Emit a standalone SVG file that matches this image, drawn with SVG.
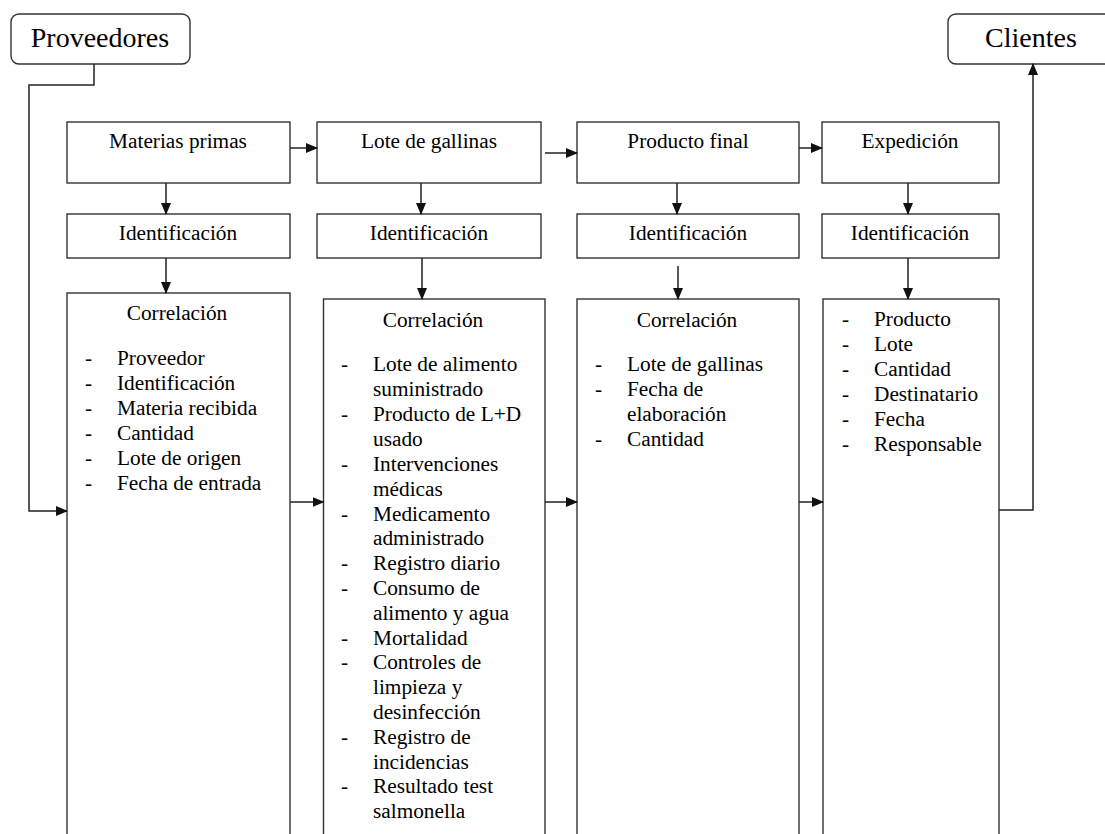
<svg xmlns="http://www.w3.org/2000/svg" width="1105" height="834" viewBox="0 0 1105 834">
<style>
.box{fill:#fff;stroke:#333;stroke-width:1.4}
.t{font-family:'Liberation Serif','Times New Roman',Tinos,'DejaVu Serif',serif;font-size:21.3px;fill:#000}
.c{text-anchor:middle}
.big{font-family:'Liberation Serif','Times New Roman',Tinos,'DejaVu Serif',serif;font-size:28px;fill:#000;text-anchor:middle}
.ln{fill:none;stroke:#222;stroke-width:1.5}
</style>
<defs>
<marker id="ah" markerWidth="12" markerHeight="12" refX="11" refY="6" orient="auto" markerUnits="userSpaceOnUse">
<path d="M0,1 L12,6 L0,11 Z" fill="#111"/>
</marker>
</defs>
<rect width="1105" height="834" fill="#fff"/>

<g id="proveedores">
<rect class="box" x="11" y="14" width="179" height="50" rx="8"/>
<text class="big" x="100" y="47">Proveedores</text>
</g>
<g id="clientes">
<rect class="box" x="948" y="14" width="180" height="50" rx="8"/>
<text class="big" x="1031" y="47">Clientes</text>
</g>

<g id="materias">
<rect class="box" x="67" y="122" width="223" height="61"/>
<text class="t c" x="178" y="148">Materias primas</text>
</g>
<g id="lote">
<rect class="box" x="317" y="122" width="224" height="61"/>
<text class="t c" x="429" y="148">Lote de gallinas</text>
</g>
<g id="producto">
<rect class="box" x="577" y="122" width="222" height="61"/>
<text class="t c" x="688" y="148">Producto final</text>
</g>
<g id="expedicion">
<rect class="box" x="822" y="122" width="177" height="61"/>
<text class="t c" x="910" y="148">Expedición</text>
</g>

<g id="id1">
<rect class="box" x="67" y="214" width="223" height="44"/>
<text class="t c" x="178" y="240">Identificación</text>
</g>
<g id="id2">
<rect class="box" x="317" y="214" width="224" height="44"/>
<text class="t c" x="429" y="240">Identificación</text>
</g>
<g id="id3">
<rect class="box" x="577" y="214" width="222" height="44"/>
<text class="t c" x="688" y="240">Identificación</text>
</g>
<g id="id4">
<rect class="box" x="822" y="214" width="177" height="44"/>
<text class="t c" x="910" y="240">Identificación</text>
</g>

<g id="corr1">
<rect class="box" x="67" y="293" width="223" height="600"/>
<text class="t c" x="177" y="320">Correlación</text>
<g class="t">
<text x="85" y="365">-</text><text x="117" y="365">Proveedor</text>
<text x="85" y="390">-</text><text x="117" y="390">Identificación</text>
<text x="85" y="415">-</text><text x="117" y="415">Materia recibida</text>
<text x="85" y="440">-</text><text x="117" y="440">Cantidad</text>
<text x="85" y="465">-</text><text x="117" y="465">Lote de origen</text>
<text x="85" y="490">-</text><text x="117" y="490">Fecha de entrada</text>
</g>
</g>

<g id="corr2">
<rect class="box" x="323.5" y="299" width="221.5" height="600"/>
<text class="t c" x="433" y="327">Correlación</text>
<g class="t">
<text x="341" y="371">-</text><text x="373" y="371">Lote de alimento</text>
<text x="373" y="396">suministrado</text>
<text x="341" y="421">-</text><text x="373" y="421">Producto de L+D</text>
<text x="373" y="446">usado</text>
<text x="341" y="471">-</text><text x="373" y="471">Intervenciones</text>
<text x="373" y="495.5">médicas</text>
<text x="341" y="520.5">-</text><text x="373" y="520.5">Medicamento</text>
<text x="373" y="545">administrado</text>
<text x="341" y="570">-</text><text x="373" y="570">Registro diario</text>
<text x="341" y="595">-</text><text x="373" y="595">Consumo de</text>
<text x="373" y="619.5">alimento y agua</text>
<text x="341" y="644.5">-</text><text x="373" y="644.5">Mortalidad</text>
<text x="341" y="669">-</text><text x="373" y="669">Controles de</text>
<text x="373" y="694">limpieza y</text>
<text x="373" y="719">desinfección</text>
<text x="341" y="743.5">-</text><text x="373" y="743.5">Registro de</text>
<text x="373" y="768.5">incidencias</text>
<text x="341" y="793">-</text><text x="373" y="793">Resultado test</text>
<text x="373" y="818">salmonella</text>
</g>
</g>

<g id="corr3">
<rect class="box" x="577" y="299" width="222" height="600"/>
<text class="t c" x="687" y="327">Correlación</text>
<g class="t">
<text x="595" y="371">-</text><text x="627" y="371">Lote de gallinas</text>
<text x="595" y="396">-</text><text x="627" y="396">Fecha de</text>
<text x="627" y="421">elaboración</text>
<text x="595" y="446">-</text><text x="627" y="446">Cantidad</text>
</g>
</g>

<g id="corr4">
<rect class="box" x="823" y="299" width="176" height="600"/>
<g class="t">
<text x="842" y="326">-</text><text x="874" y="326">Producto</text>
<text x="842" y="351">-</text><text x="874" y="351">Lote</text>
<text x="842" y="376">-</text><text x="874" y="376">Cantidad</text>
<text x="842" y="401">-</text><text x="874" y="401">Destinatario</text>
<text x="842" y="426">-</text><text x="874" y="426">Fecha</text>
<text x="842" y="451">-</text><text x="874" y="451">Responsable</text>
</g>
</g>

<g id="connectors">
<path class="ln" d="M94,64 V85 H29 V511 H67" marker-end="url(#ah)"/>
<path class="ln" d="M999,510 H1033 V64" marker-end="url(#ah)"/>
<path class="ln" d="M290,148 H317" marker-end="url(#ah)"/>
<path class="ln" d="M545,153 H577" marker-end="url(#ah)"/>
<path class="ln" d="M799,148 H822" marker-end="url(#ah)"/>
<path class="ln" d="M166,183 V214" marker-end="url(#ah)"/>
<path class="ln" d="M421,183 V214" marker-end="url(#ah)"/>
<path class="ln" d="M677,183 V214" marker-end="url(#ah)"/>
<path class="ln" d="M908,183 V214" marker-end="url(#ah)"/>
<path class="ln" d="M166,258 V293" marker-end="url(#ah)"/>
<path class="ln" d="M422,258 V299" marker-end="url(#ah)"/>
<path class="ln" d="M678,266 V299" marker-end="url(#ah)"/>
<path class="ln" d="M908,258 V299" marker-end="url(#ah)"/>
<path class="ln" d="M290,502 H323.5" marker-end="url(#ah)"/>
<path class="ln" d="M545,502 H577" marker-end="url(#ah)"/>
<path class="ln" d="M799,502 H823" marker-end="url(#ah)"/>
</g>
</svg>
